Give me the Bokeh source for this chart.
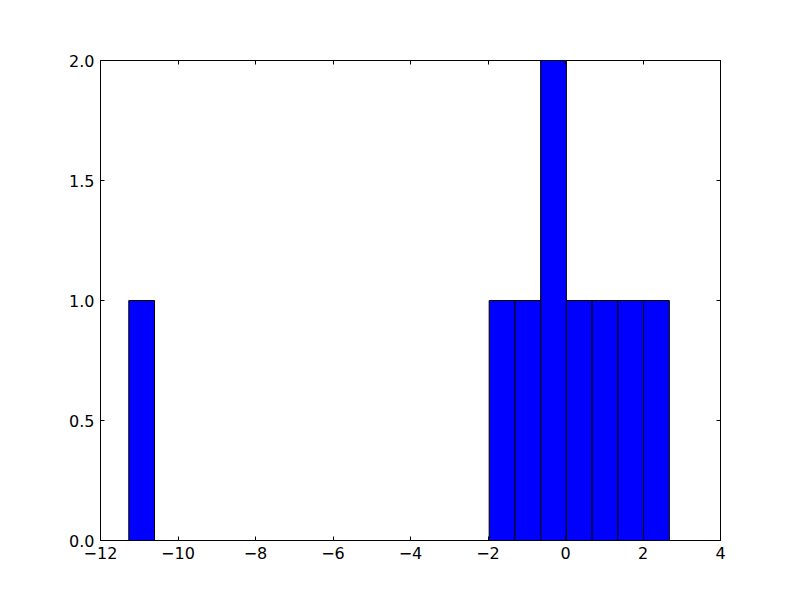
from bokeh.plotting import figure
from bokeh.models import Range1d, LinearAxis, FixedTicker
from bokeh.embed import file_html
from bokeh.resources import INLINE

# Histogram data: 21 equal bins spanning the data range
data_min = -11.27
data_max = 2.68
n_bins = 21
counts = [1, 0, 0, 0, 0, 0, 0, 0, 0, 0, 0, 0, 0, 0, 1, 1, 2, 1, 1, 1, 1]

x_ticks = [-12, -10, -8, -6, -4, -2, 0, 2, 4]
y_ticks = [0.0, 0.5, 1.0, 1.5, 2.0]

bin_width = (data_max - data_min) / n_bins
bin_left = [data_min + k * bin_width for k in range(n_bins)]

p = figure(frame_width=620, frame_height=480, output_backend="svg", toolbar_location=None,
           x_range=Range1d(-12, 4), y_range=Range1d(0, 2),
           min_border_left=100, min_border_right=64, min_border_top=60, min_border_bottom=44,
           x_axis_location=None, y_axis_location=None)
p.background_fill_color = "white"
p.border_fill_color = "white"
p.outline_line_color = "black"
p.outline_line_width = 1
p.xgrid.visible = False
p.ygrid.visible = False

lefts = [b for b, c in zip(bin_left, counts) if c > 0]
rights = [b + bin_width for b, c in zip(bin_left, counts) if c > 0]
tops = [c for c in counts if c > 0]
p.quad(left=lefts, right=rights, bottom=0, top=tops,
       fill_color="#0000ff", line_color="black", line_width=1)

def style(ax, labels=True):
    ax.major_tick_in = 4
    ax.major_tick_out = 0
    ax.minor_tick_in = 0
    ax.minor_tick_out = 0
    ax.axis_line_color = None
    ax.major_tick_line_color = "black"
    ax.major_label_text_font = "DejaVu Sans"
    ax.major_label_text_font_size = "12pt"
    ax.major_label_text_color = "black"
    ax.major_label_standoff = 6
    if not labels:
        ax.major_label_text_font_size = "0pt"
        ax.major_label_text_alpha = 0

xb = LinearAxis(ticker=FixedTicker(ticks=x_ticks))
xb.major_label_overrides = {t: (str(t).replace("-", "\u2212")) for t in x_ticks}
style(xb)
p.add_layout(xb, "below")
xt = LinearAxis(ticker=FixedTicker(ticks=x_ticks))
style(xt, labels=False)
p.add_layout(xt, "above")

yl = LinearAxis(ticker=FixedTicker(ticks=y_ticks))
yl.major_label_overrides = {t: f"{t:.1f}" for t in y_ticks}
style(yl)
p.add_layout(yl, "left")
yr = LinearAxis(ticker=FixedTicker(ticks=y_ticks))
style(yr, labels=False)
p.add_layout(yr, "right")

open("out.html", "w").write(file_html(p, INLINE))
